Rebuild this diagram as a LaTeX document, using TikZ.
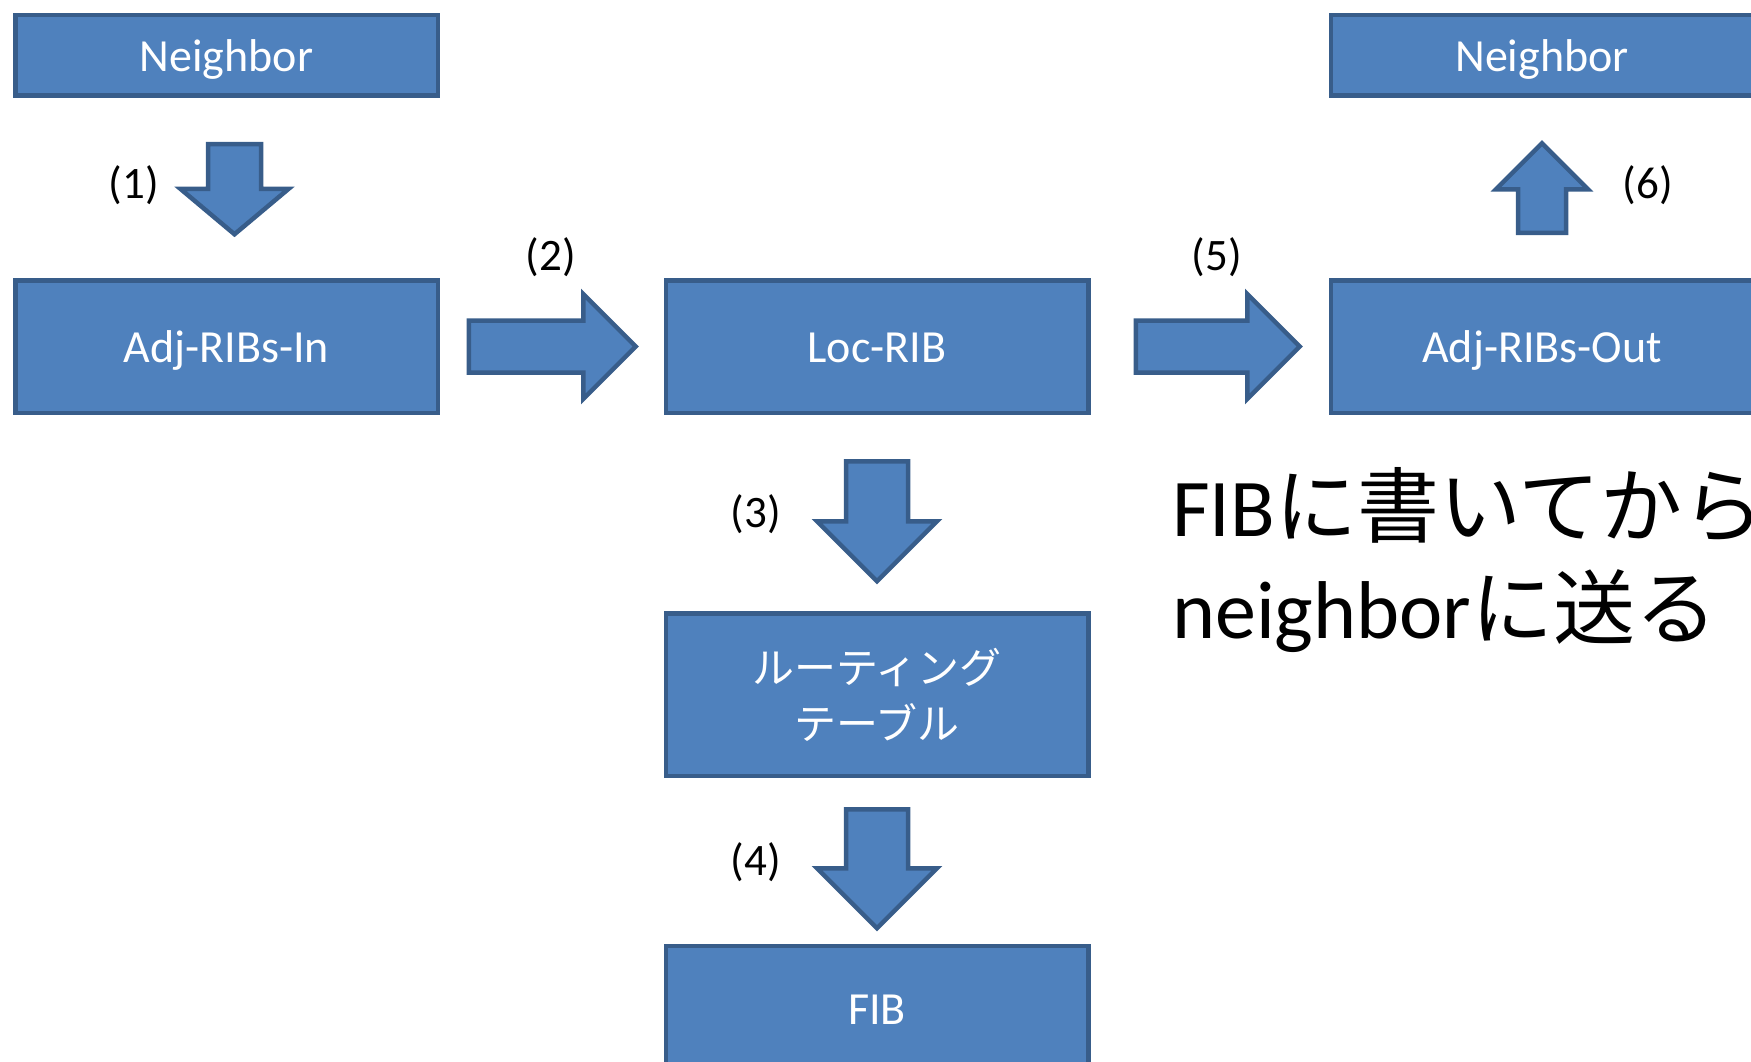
\documentclass[tikz,border=0pt]{standalone}
\usepackage{fontspec}
\setmainfont{Carlito}
\newfontfamily\jpfont{Noto Sans CJK JP}
\usepackage{tikz}
\usetikzlibrary{shapes.arrows,positioning}
\definecolor{ribfill}{HTML}{4F81BD}
\definecolor{ribline}{HTML}{385D8A}

\begin{document}
\begin{tikzpicture}[x=1pt,y=-1pt,line width=4.5pt,
	rib/.style={rectangle,fill=ribfill,draw=ribline,text=white,align=center,
		minimum width=422.5pt,minimum height=132.5pt,text height=38pt,text depth=6pt,
		font=\fontsize{46}{56}\selectfont},
	flow/.style={single arrow,fill=ribfill,draw=ribline,inner sep=0pt,anchor=tail,
		text depth=0pt,single arrow head extend=#1},
	num/.style={font=\fontsize{45}{54}\selectfont},
	msg/.style={anchor=base west,inner sep=0pt,font=\fontsize{82}{101}\selectfont}]
	\useasboundingbox (0,0) rectangle (1751,1062);
	\node[rib,minimum height=80.5pt] (nbrin) at (226.5,55.5) {Neighbor};
	\node[rib] (adjin) at (226.5,346.5) {Adj-RIBs-In};
	\node[rib] (locrib) at (877,346.5) {Loc-RIB};
	\node[rib,minimum height=162.5pt,text height={},text depth={},font=\jpfont\fontsize{42}{56}\selectfont] (rtable) at (877,694.5) {ルーティング\\テーブル};
	\node[rib,minimum height=124pt] (fib) at (877,1008) {FIB};
	\node[rib] (adjout) at (1542,346.5) {Adj-RIBs-Out};
	\node[rib,minimum height=80.5pt] (nbrout) at (1542,55.5) {Neighbor};

	\node[flow=27.5pt,text height=48.5pt,single arrow tip angle=100,minimum height=90pt,rotate=-90] (s1) at ([xshift=8pt,yshift=-44pt]nbrin.south) {};
	\node[flow=26.5pt,text height=47.5pt,minimum height=167pt] (s2) at ([xshift=26.5pt]adjin.east) {};
	\node[flow=29pt,text height=57.5pt,minimum height=120pt,rotate=-90] (s3) at ([yshift=-44pt]locrib.south) {};
	\node[flow=29pt,text height=57.5pt,minimum height=119pt,rotate=-90] (s4) at ([yshift=-29pt]rtable.south) {};
	\node[flow=26.5pt,text height=47.5pt,minimum height=164pt] (s5) at ([xshift=43pt]locrib.east) {};
	\node[flow=22pt,text height=43.5pt,minimum height=89.5pt,rotate=90] (s6) at ([yshift=43pt]adjout.north) {};

	\node[num] (l1) at (134,185) {(1)};
	\node[num] (l2) at (551,257) {(2)};
	\node[num] (l3) at (756,514) {(3)};
	\node[num] (l4) at (756,862) {(4)};
	\node[num] (l5) at (1217,257) {(5)};
	\node[num] (l6) at (1648,185) {(6)};

	\node[msg] (msg1) at (1170,536) {FIB{\jpfont\fontsize{82}{101}\selectfont に書いてから}};
	\node[msg] (msg2) at (1170,638) {neighbor{\jpfont\fontsize{82}{101}\selectfont に送る}};
\end{tikzpicture}
\end{document}
